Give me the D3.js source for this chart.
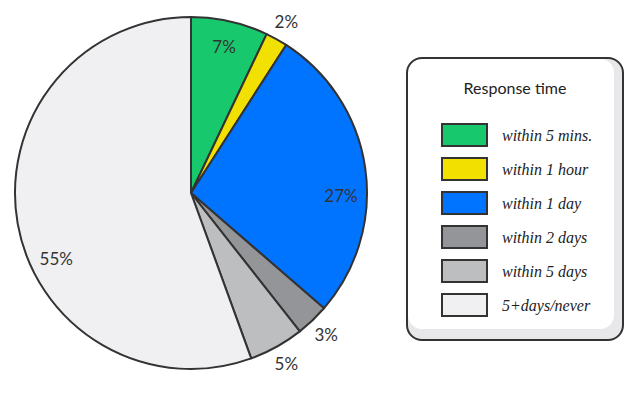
<!DOCTYPE html>
<html><head><meta charset="utf-8">
<script src="https://cdn.jsdelivr.net/npm/d3@7/dist/d3.min.js"></script>
<style>body{margin:0;background:#fff}svg{display:block}</style>
</head><body>
<svg id="c" width="638" height="394"></svg>
<script>
const categories = ["within 5 mins.", "within 1 hour", "within 1 day", "within 2 days", "within 5 days", "5+days/never"];
const values = [7, 2, 27, 3, 5, 55];
const colors = ["#17c96c", "#f2e100", "#0073ff", "#939598", "#bcbec0", "#f0f0f2"];
const legendTitle = "Response time";

const svg = d3.select("#c");
const cx = 191, cy = 193, R = 176;
const g = svg.append("g").attr("transform", `translate(${cx},${cy})`);
const pie = d3.pie().sort(null).value(d => d)(values);
const arc = d3.arc().innerRadius(0).outerRadius(R);
g.selectAll("path").data(pie).join("path")
  .attr("d", arc).attr("fill", (d,i) => colors[i])
  .attr("stroke", "#333").attr("stroke-width", 2).attr("stroke-linejoin", "round");

// labels: inside for larger slices, outside for small ones
const sorted = values.slice().sort((a,b) => b - a);
pie.forEach((d,i) => {
  const inside = values[i] >= 7;
  let a = (d.startAngle + d.endAngle) / 2;
  if (values[i] === sorted[0]) a -= 0.28;       // largest slice label nudged
  else if (values[i] === sorted[1]) a += 0.16;  // second largest nudged
  const r = inside ? 150 : 196;
  const x = Math.sin(a) * r, y = -Math.cos(a) * r;
  g.append("text").attr("x", x).attr("y", y).attr("dy", "0.35em")
    .attr("text-anchor", "middle")
    .attr("font-family", "Lato, 'Open Sans', sans-serif").attr("font-size", 17)
    .attr("fill", "#333").text(values[i] + "%");
});

// legend
const lx = 407, ly = 58, lw = 216, lh = 282;
const lg = svg.append("g");
lg.append("rect").attr("x", lx).attr("y", ly).attr("width", lw).attr("height", lh)
  .attr("rx", 15).attr("fill", "#e8e8ea");
lg.append("rect").attr("x", lx+1).attr("y", ly+1).attr("width", lw-10).attr("height", lh-12)
  .attr("rx", 14).attr("fill", "#fff");
lg.append("rect").attr("x", lx).attr("y", ly).attr("width", lw).attr("height", lh)
  .attr("rx", 15).attr("fill", "none").attr("stroke", "#333").attr("stroke-width", 2);
lg.append("text").attr("x", lx + 108).attr("y", ly + 36).attr("text-anchor", "middle")
  .attr("font-family", "Lato, 'Open Sans', sans-serif").attr("font-size", 16)
  .attr("fill", "#222").text(legendTitle);
const ys = d3.scaleBand().domain(categories).range([ly + 65, ly + 65 + 34*6]);
categories.forEach((c,i) => {
  const y = ys(c);
  lg.append("rect").attr("x", 442).attr("y", y+1).attr("width", 45).attr("height", 22)
    .attr("fill", colors[i]).attr("stroke", "#333").attr("stroke-width", 2);
  lg.append("text").attr("x", 502).attr("y", y + 12).attr("dy", "0.35em")
    .attr("font-family", "'Liberation Serif', 'DejaVu Serif', serif").attr("font-style", "italic")
    .attr("font-size", 16).attr("fill", "#222").text(c);
});
</script>
</body></html>
